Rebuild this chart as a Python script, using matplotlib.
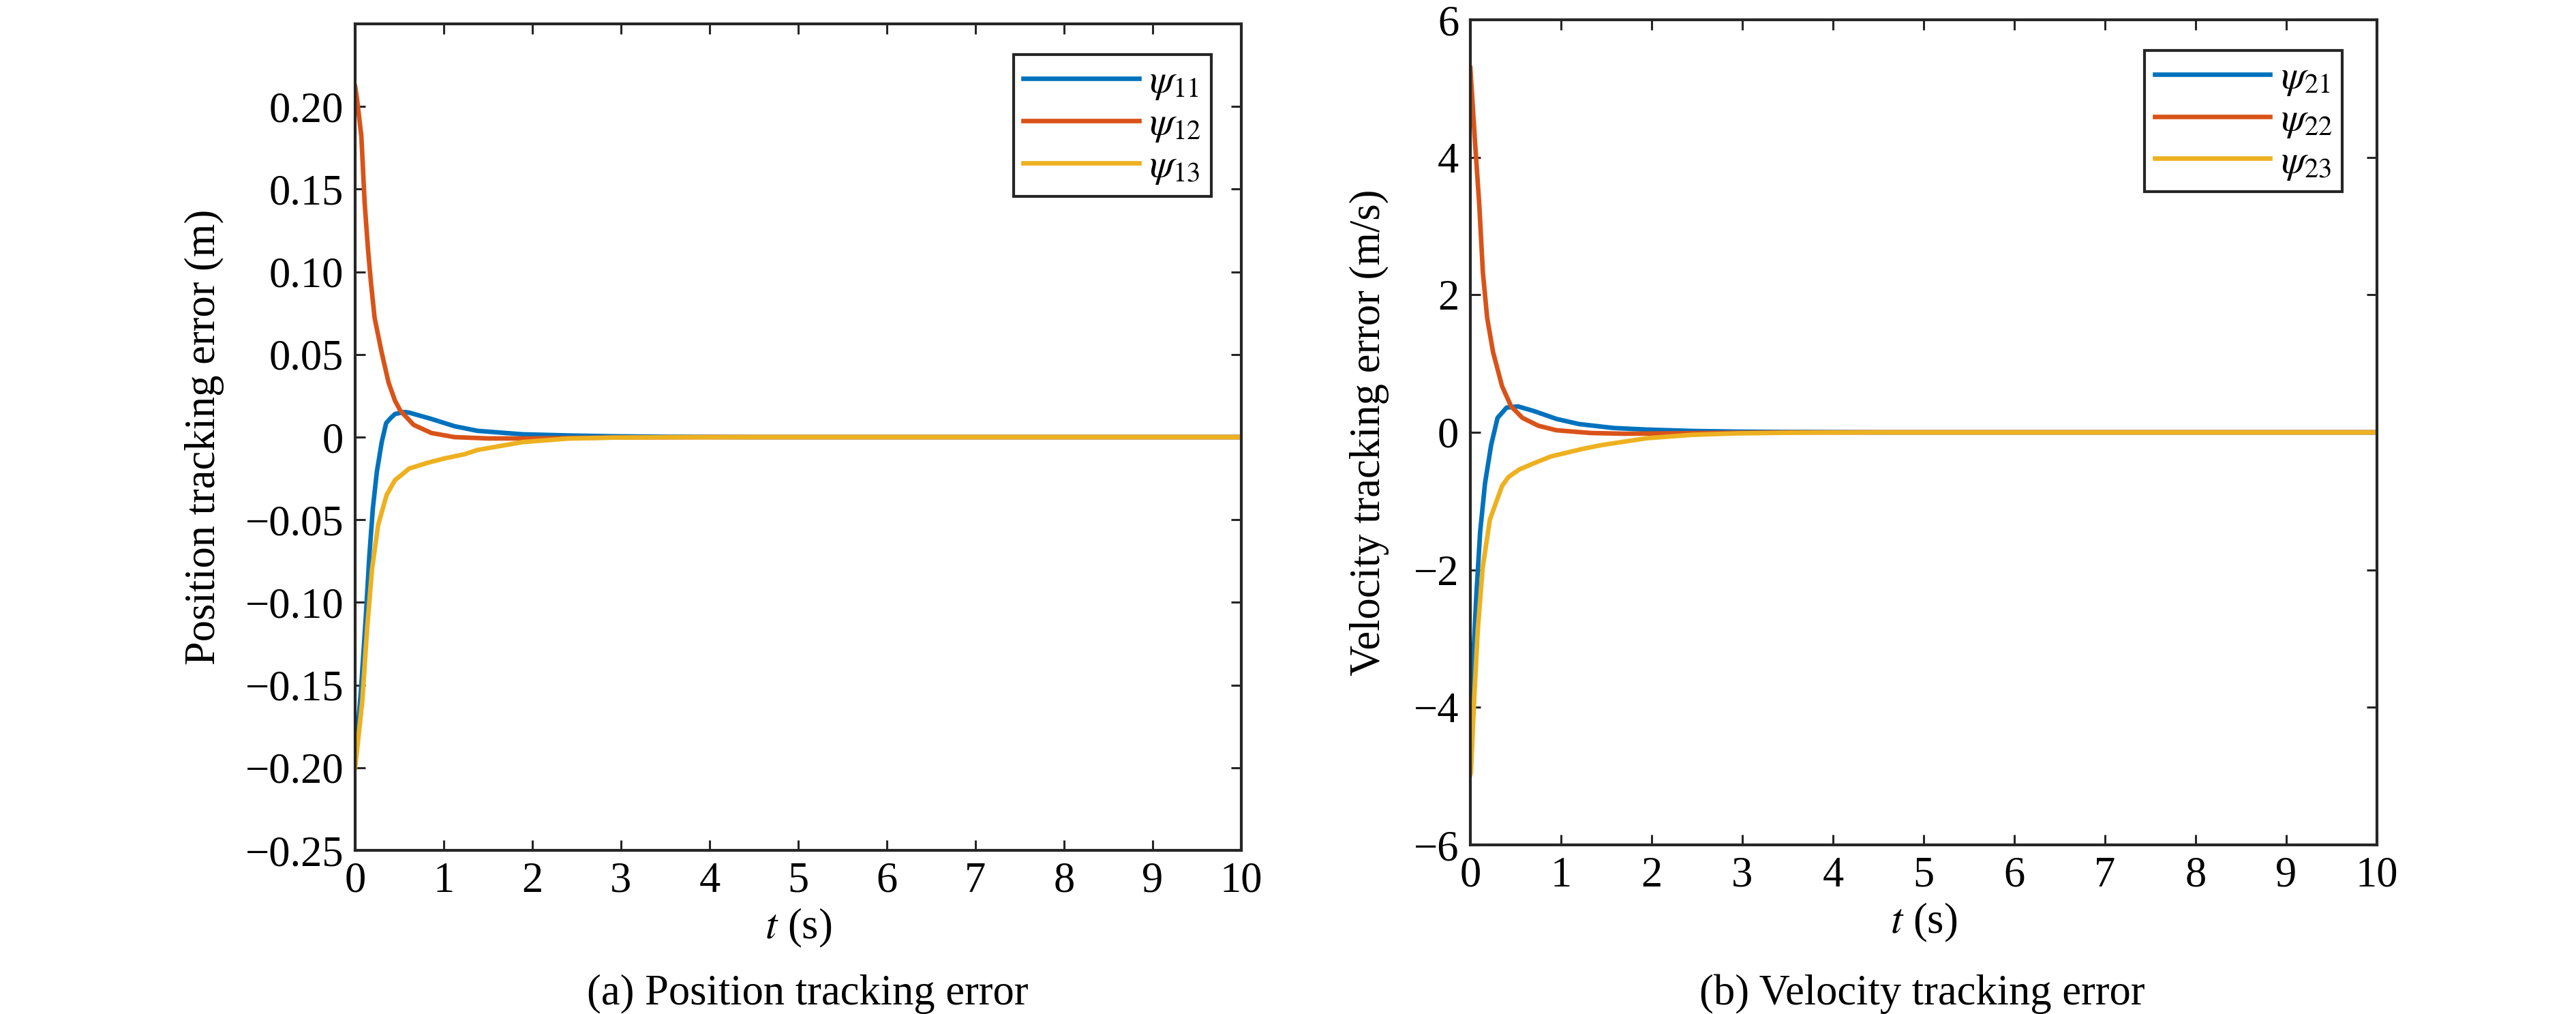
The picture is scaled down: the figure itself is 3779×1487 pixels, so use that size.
import matplotlib
matplotlib.use("Agg")
import matplotlib.pyplot as plt

plt.rcParams['font.family'] = ['Liberation Serif', 'DejaVu Serif']
plt.rcParams['mathtext.fontset'] = 'stix'
plt.rcParams['axes.unicode_minus'] = True

# values
# (a) position tracking error (m)
t_p11 = [0, 0.01, 0.066, 0.12, 0.16, 0.20, 0.245, 0.30, 0.35, 0.40, 0.45, 0.56, 0.61, 0.86,
         1.12, 1.38, 1.89, 2.4, 2.9, 3.5, 4.5, 10]
psi11 = [-0.197, -0.19, -0.153, -0.109, -0.072, -0.043, -0.021, -0.003, 0.0085, 0.0115, 0.014,
         0.0152, 0.0148, 0.011, 0.0066, 0.0038, 0.0017, 0.001, 0.0005, 0.0002, 0.0, 0.0]

t_p12 = [0, 0.02, 0.07, 0.108, 0.146, 0.18, 0.22, 0.30, 0.377, 0.45, 0.51, 0.66, 0.86, 1.12,
         1.5, 2.0, 2.5, 3.0, 4.0, 10]
psi12 = [0.212, 0.205, 0.182, 0.141, 0.113, 0.0925, 0.072, 0.051, 0.033, 0.022, 0.016, 0.0074,
         0.0025, 0.0, -0.0008, -0.0008, -0.0005, -0.0002, 0.0, 0.0]

t_p13 = [0, 0.01, 0.08, 0.135, 0.19, 0.26, 0.355, 0.45, 0.52, 0.61, 0.82, 1.0, 1.23, 1.38,
         1.89, 2.4, 2.9, 3.5, 4.5, 10]
psi13 = [-0.200, -0.195, -0.16, -0.116, -0.080, -0.053, -0.035, -0.026, -0.023, -0.019, -0.0155,
         -0.013, -0.0104, -0.0078, -0.003, -0.0009, -0.0003, -0.0001, 0.0, 0.0]

# (b) velocity tracking error (m/s)
t_v21 = [0, 0.028, 0.068, 0.108, 0.162, 0.23, 0.30, 0.40, 0.525, 0.70, 0.95, 1.2, 1.58, 1.95,
         2.45, 2.95, 3.5, 4.5, 10]
psi21 = [-4.55, -3.40, -2.33, -1.45, -0.74, -0.18, 0.21, 0.36, 0.377, 0.31, 0.195, 0.12, 0.063,
         0.04, 0.02, 0.01, 0.005, 0.0, 0.0]

t_v22 = [0, 0.05, 0.098, 0.138, 0.185, 0.25, 0.35, 0.45, 0.575, 0.75, 0.95, 1.33, 1.7, 2.2,
         2.8, 3.5, 10]
psi22 = [5.30, 4.25, 3.32, 2.33, 1.67, 1.17, 0.67, 0.377, 0.21, 0.096, 0.03, -0.01, -0.02,
         -0.015, -0.008, 0.0, 0.0]

t_v23 = [0, 0.007, 0.04, 0.082, 0.135, 0.215, 0.35, 0.42, 0.54, 0.70, 0.89, 1.24, 1.45, 1.95,
         2.45, 2.95, 3.5, 4.5, 10]
psi23 = [-4.98, -4.95, -3.93, -2.87, -1.98, -1.27, -0.78, -0.65, -0.54, -0.45, -0.35, -0.24,
         -0.185, -0.085, -0.036, -0.015, -0.006, 0.0, 0.0]

x_ticks = list(range(0, 11))
pos_ticks = [-0.25, -0.20, -0.15, -0.10, -0.05, 0, 0.05, 0.10, 0.15, 0.20]
pos_labels = ['\u22120.25', '\u22120.20', '\u22120.15', '\u22120.10', '\u22120.05', '0',
              '0.05', '0.10', '0.15', '0.20']
vel_ticks = [-6, -4, -2, 0, 2, 4, 6]
vel_labels = ['\u22126', '\u22124', '\u22122', '0', '2', '4', '6']

colors = ['#0072BD', '#D95319', '#EDB120']
axc = '#262626'
W, H = 3780, 1487
fs = 45
lw = 4.8


def style_axes(ax):
    for s in ax.spines.values():
        s.set_linewidth(3)
        s.set_color(axc)
    ax.tick_params(direction='in', length=11, width=2.2, color=axc, top=True, right=True,
                   labelsize=fs, pad=12)
    ax.set_xlim(0, 10)
    ax.set_xticks(x_ticks)


fig = plt.figure(figsize=(W / 100, H / 100), dpi=100)

ax1 = fig.add_axes([521 / W, 1 - 1247 / H, 1300 / W, 1212 / H])
ax1.plot(t_p11, psi11, color=colors[0], lw=lw, label=r'$\psi_{11}$')
ax1.plot(t_p12, psi12, color=colors[1], lw=lw, label=r'$\psi_{12}$')
ax1.plot(t_p13, psi13, color=colors[2], lw=lw, label=r'$\psi_{13}$')
style_axes(ax1)
ax1.set_ylim(-0.25, 0.25)
ax1.set_yticks(pos_ticks)
ax1.set_yticklabels(pos_labels)
ax1.set_ylabel('Position tracking error (m)', fontsize=fs, labelpad=22)
ax1.set_xlabel(r'$t$ (s)', fontsize=fs, labelpad=6)

ax2 = fig.add_axes([2157 / W, 1 - 1239 / H, 1330 / W, 1210 / H])
ax2.plot(t_v21, psi21, color=colors[0], lw=lw, label=r'$\psi_{21}$')
ax2.plot(t_v22, psi22, color=colors[1], lw=lw, label=r'$\psi_{22}$')
ax2.plot(t_v23, psi23, color=colors[2], lw=lw, label=r'$\psi_{23}$')
style_axes(ax2)
ax2.set_ylim(-6, 6)
ax2.set_yticks(vel_ticks)
ax2.set_yticklabels(vel_labels)
ax2.set_ylabel('Velocity tracking error (m/s)', fontsize=fs, labelpad=26)
ax2.set_xlabel(r'$t$ (s)', fontsize=fs, labelpad=6)

for ax, bx in [(ax1, 0.966), (ax2, 0.9617)]:
    leg = ax.legend(loc='upper right', bbox_to_anchor=(bx, 0.963), borderaxespad=0,
                    fontsize=42, handlelength=2.9, handletextpad=0.27, labelspacing=0.12,
                    borderpad=0.25, fancybox=False, framealpha=1)
    leg.get_frame().set_edgecolor(axc)
    leg.get_frame().set_linewidth(3)

fig.text(1185 / W, 1 - 1458 / H, '(a) Position tracking error', fontsize=fs,
         ha='center', va='center')
fig.text(2820 / W, 1 - 1458 / H, '(b) Velocity tracking error', fontsize=fs,
         ha='center', va='center')

fig.savefig('out.png', dpi=100, facecolor='white')
